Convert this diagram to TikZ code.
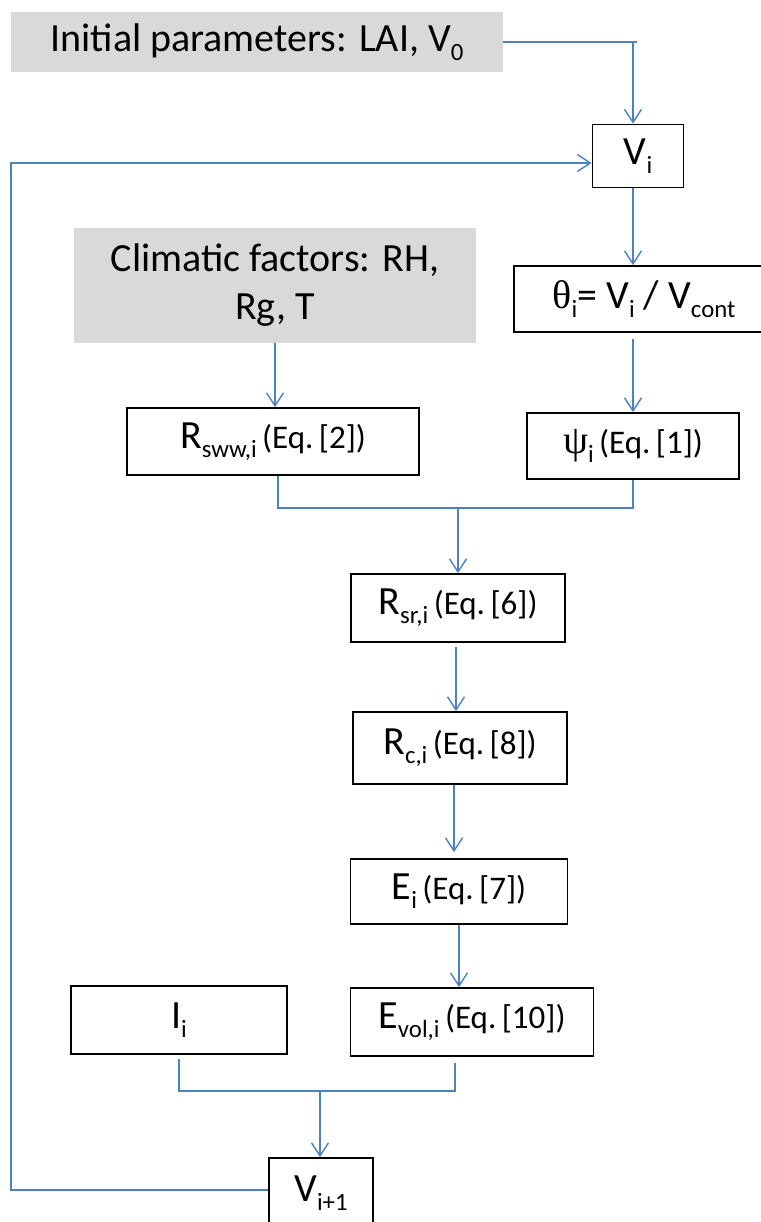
\documentclass[tikz,border=0pt]{standalone}
\usepackage{fontspec}
\usepackage{graphicx}
\setmainfont{Carlito}
\newfontfamily\grk{Liberation Serif}
\usetikzlibrary{arrows.meta,calc}
\definecolor{lineblue}{RGB}{79,129,189}
\definecolor{boxgray}{RGB}{217,217,217}
\newcommand\sbs[1]{\raisebox{-0.22em}{\scalebox{0.62}{#1}}}
\newcommand\eqt[1]{{\fontsize{33}{40}\selectfont\,(Eq.\,[#1])}}
\begin{document}
\begin{tikzpicture}[x=1pt,y=-1pt,
  txt/.style={font=\fontsize{40}{48}\selectfont, inner sep=0pt, align=center},
  graybox/.style={txt, fill=boxgray, draw=none},
  whitebox/.style={txt, fill=white, draw=black, line width=1.8pt},
  conn/.style={draw=lineblue, line width=1.4pt},
  arr/.style={conn, -{Straight Barb[length=13pt,width=17pt,line width=1.4pt]}}
]
\useasboundingbox (0,0) rectangle (760,1222);
\fill[white] (0,0) rectangle (760,1222);

% nodes
\node[graybox, minimum width=492pt, minimum height=60pt] (init) at (257,42) {Initial parameters: LAI, V\sbs{0}};
\node[whitebox, minimum width=91pt, minimum height=63pt] (vi) at (638,156) {V\sbs{i}};
\node[graybox, minimum width=402pt, minimum height=115pt] (clim) at (275,285.5) {Climatic factors: RH,\\Rg, T};
\node[whitebox, minimum width=260pt, minimum height=66pt] (theta) at (644,299) {{\grk θ}\sbs{i}= V\sbs{i} / V\sbs{cont}};
\node[whitebox, minimum width=212pt, minimum height=66pt] (psi) at (633,446) {{\grk ψ}\sbs{i}\eqt{1}};
\node[whitebox, minimum width=292pt, minimum height=67pt] (rsww) at (273,441.5) {R\sbs{sww,i}\eqt{2}};
\node[whitebox, minimum width=214pt, minimum height=68pt] (rsr) at (458,608) {R\sbs{sr,i}\eqt{6}};
\node[whitebox, minimum width=214pt, minimum height=72pt] (rc) at (460,748) {R\sbs{c,i}\eqt{8}};
\node[whitebox, minimum width=217pt, minimum height=65pt] (ei) at (459,891.5) {E\sbs{i}\eqt{7}};
\node[whitebox, minimum width=243pt, minimum height=68pt] (evol) at (472,1022) {E\sbs{vol,i}\eqt{10}};
\node[whitebox, minimum width=216pt, minimum height=68pt] (ii) at (179,1020) {I\sbs{i}};
\node[whitebox, minimum width=104pt, minimum height=70pt] (vnext) at (321,1193) {V\sbs{i+1}};

% coordinates
\coordinate (c1) at (633,42);
\coordinate (j1) at (458,508);
\coordinate (j2) at (320,1091);
\coordinate (fb) at (11,1190);

% connectors
\draw[conn] (init.east) -- ($(c1)+(4,0)$);
\draw[arr] (c1) -- (c1 |- vi.north);
\draw[arr] (vi.south -| c1) -- (c1 |- theta.north);
\draw[arr] ($(theta.south -| c1)+(0,6)$) -- (c1 |- psi.north);
\draw[arr] (clim.south) -- (clim.south |- rsww.north);
\draw[conn] ($(rsww.south)+(5,0)$) |- (j1);
\draw[conn] (psi.south) |- (j1);
\draw[arr] (j1) -- (j1 |- rsr.north);
\draw[arr] ($(rsr.south)+(-2,4)$) -- ($(rc.north)+(-4,0)$);
\draw[arr] ($(rc.south)+(-6,0)$) -- ($(ei.north)+(-5,-6)$);
\draw[arr] (ei.south) -- ($(evol.north)+(-13,0)$);
\draw[conn] ($(ii.south)+(0,4)$) |- (j2);
\draw[conn] ($(evol.south)+(-17,6)$) |- (j2);
\draw[arr] (j2) -- (j2 |- vnext.north);
\draw[arr] (vnext.west |- fb) -| (11,163) -- (vi.west |- 0,163);
\end{tikzpicture}
\end{document}
